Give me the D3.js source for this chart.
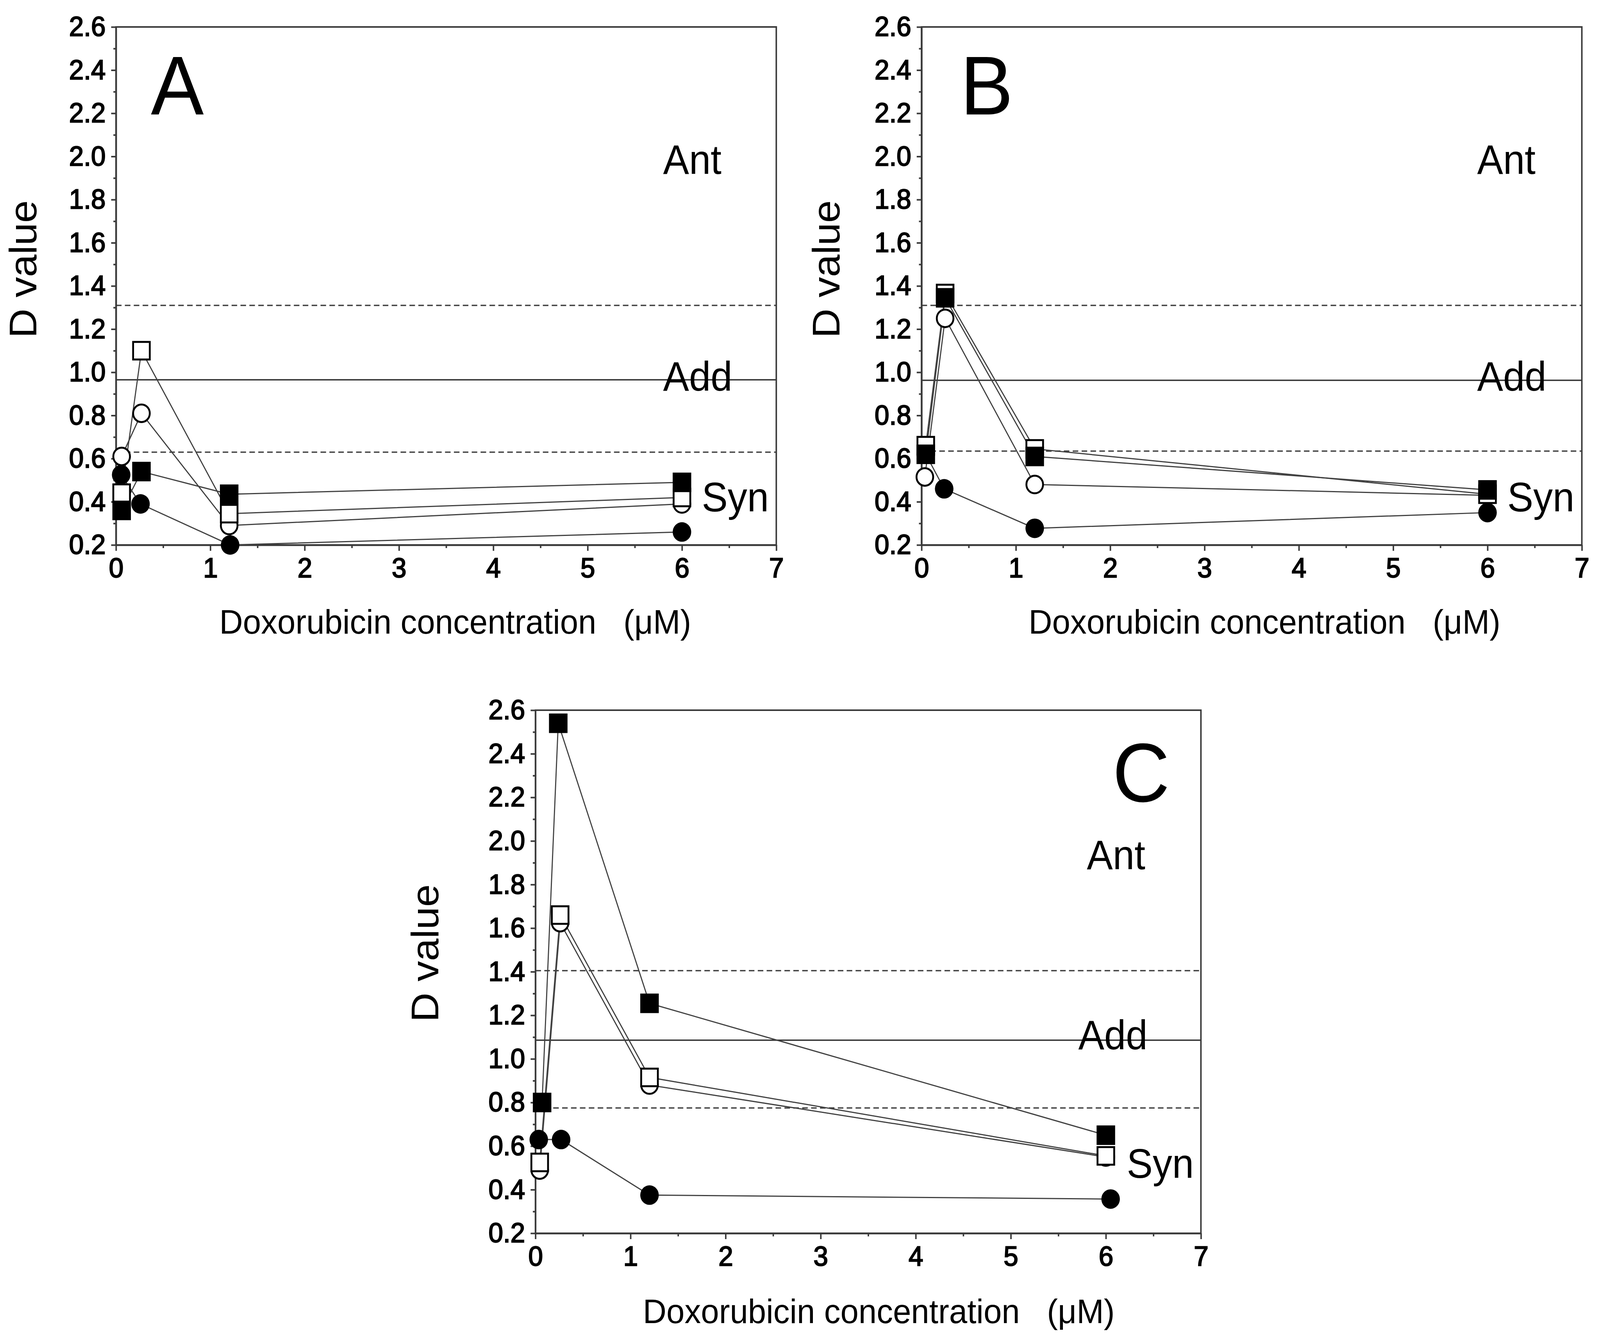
<!DOCTYPE html>
<html>
<head>
<meta charset="utf-8">
<script src="https://cdn.jsdelivr.net/npm/d3@7/dist/d3.min.js"></script>
<style>
  html, body { margin: 0; padding: 0; background: #fff; overflow: hidden; width: 100%; height: 100%; }
  svg { display: block; width: 100vw; height: 100vh; }
  text { font-family: "Liberation Sans", Arial, sans-serif; fill: #000; }
</style>
</head>
<body>
<svg id="chart" viewBox="0 0 4318 3420" preserveAspectRatio="none"></svg>
<script>
// ---------------- DATA ----------------
const xTickValues = [0, 1, 2, 3, 4, 5, 6, 7];
const xMinorTicks = [0.5, 1.5, 2.5, 3.5, 4.5, 5.5, 6.5];
const yTickValues = [0.2, 0.4, 0.6, 0.8, 1.0, 1.2, 1.4, 1.6, 1.8, 2.0, 2.2, 2.4, 2.6];
const yMinorTicks = [0.3, 0.5, 0.7, 0.9, 1.1, 1.3, 1.5, 1.7, 1.9, 2.1, 2.3, 2.5];
const zoneLabels = ["Ant", "Add", "Syn"];
const xAxisTitle = "Doxorubicin concentration   (\u03bcM)";
const yAxisTitle = "D value";

// Panel A
const doseA_filledSquare = [0.06, 0.27, 1.2, 6.0];
const dA_filledSquare    = [0.36, 0.54, 0.435, 0.49];
const doseA_openSquare   = [0.06, 0.27, 1.2, 6.0];
const dA_openSquare      = [0.44, 1.10, 0.345, 0.42];
const doseA_openCircle   = [0.06, 0.27, 1.2, 6.0];
const dA_openCircle      = [0.61, 0.81, 0.29, 0.39];
const doseA_filledCircle = [0.055, 0.26, 1.21, 6.0];
const dA_filledCircle    = [0.525, 0.39, 0.20, 0.26];
const refA = [1.31, 0.965, 0.63];

// Panel B
const doseB_filledSquare = [0.045, 0.25, 1.2, 6.0];
const dB_filledSquare    = [0.62, 1.345, 0.61, 0.455];
const doseB_openSquare   = [0.045, 0.25, 1.2, 6.0];
const dB_openSquare      = [0.66, 1.365, 0.645, 0.435];
const doseB_openCircle   = [0.035, 0.25, 1.2, 6.0];
const dB_openCircle      = [0.515, 1.25, 0.48, 0.43];
const doseB_filledCircle = [0.045, 0.24, 1.2, 6.0];
const dB_filledCircle    = [0.62, 0.46, 0.277, 0.35];
const refB = [1.31, 0.963, 0.635];

// Panel C
const doseC_filledSquare = [0.07, 0.24, 1.2, 6.0];
const dC_filledSquare    = [0.80, 2.54, 1.255, 0.65];
const doseC_openSquare   = [0.045, 0.26, 1.2, 6.0];
const dC_openSquare      = [0.525, 1.66, 0.915, 0.555];
const doseC_openCircle   = [0.045, 0.26, 1.2, 6.0];
const dC_openCircle      = [0.49, 1.625, 0.88, 0.55];
const doseC_filledCircle = [0.035, 0.27, 1.2, 6.05];
const dC_filledCircle    = [0.63, 0.63, 0.375, 0.357];
const refC = [1.405, 1.086, 0.775];

// ---------------- LAYOUT ----------------
const panels = [
  { letter: "A", left: 313, right: 2095, top: 69, bottom: 1395, ref: refA,
    letterPos: [0.37, 2.195], antPos: [5.80, 1.92], addPos: [5.80, 0.915], synPos: [6.21, 0.355],
    xTitle: [592, 1622], yTitle: [98, 689],
    series: [
      { type: "filledCircle", x: doseA_filledCircle, y: dA_filledCircle },
      { type: "openCircle",   x: doseA_openCircle,   y: dA_openCircle },
      { type: "openSquare",   x: doseA_openSquare,   y: dA_openSquare },
      { type: "filledSquare", x: doseA_filledSquare, y: dA_filledSquare } ] },
  { letter: "B", left: 2487, right: 4269, top: 69, bottom: 1395, ref: refB,
    letterPos: [0.41, 2.195], antPos: [5.89, 1.92], addPos: [5.89, 0.915], synPos: [6.21, 0.355],
    xTitle: [2776, 1622], yTitle: [2265, 689],
    series: [
      { type: "filledCircle", x: doseB_filledCircle, y: dB_filledCircle },
      { type: "openCircle",   x: doseB_openCircle,   y: dB_openCircle },
      { type: "openSquare",   x: doseB_openSquare,   y: dB_openSquare },
      { type: "filledSquare", x: doseB_filledSquare, y: dB_filledSquare } ] },
  { letter: "C", left: 1445, right: 3241, top: 1818, bottom: 3157, ref: refC,
    letterPos: [6.07, 2.18], antPos: [5.80, 1.87], addPos: [5.71, 1.045], synPos: [6.22, 0.455],
    xTitle: [1735, 3387], yTitle: [1183, 2440],
    series: [
      { type: "filledCircle", x: doseC_filledCircle, y: dC_filledCircle },
      { type: "openCircle",   x: doseC_openCircle,   y: dC_openCircle },
      { type: "openSquare",   x: doseC_openSquare,   y: dC_openSquare },
      { type: "filledSquare", x: doseC_filledSquare, y: dC_filledSquare } ] }
];

const svg = d3.select("#chart");
const AXIS_COLOR = "#3a3a3a";
const LINE_COLOR = "#404040";
const MARK = 50, STROKE = 5;

function drawPanel(p) {
  const x = d3.scaleLinear().domain([0, 7]).range([p.left, p.right]);
  const y = d3.scaleLinear().domain([0.2, 2.6]).range([p.bottom, p.top]);
  const g = svg.append("g");

  // reference lines
  p.ref.forEach((v, i) => {
    g.append("line")
      .attr("x1", x(0)).attr("x2", x(7))
      .attr("y1", y(v)).attr("y2", y(v))
      .attr("stroke", i === 1 ? "#333" : "#444")
      .attr("stroke-width", 3.5)
      .attr("stroke-dasharray", i === 1 ? null : "15,9");
  });

  // frame
  g.append("rect")
    .attr("x", x(0)).attr("y", y(2.6))
    .attr("width", x(7) - x(0)).attr("height", y(0.2) - y(2.6))
    .attr("fill", "none").attr("stroke", AXIS_COLOR).attr("stroke-width", 4);

  // axes
  const yAxis = d3.axisLeft(y).tickValues(yTickValues).tickSize(13).tickSizeOuter(0)
    .tickPadding(15).tickFormat(d3.format(".1f"));
  const yMinor = d3.axisLeft(y).tickValues(yMinorTicks).tickSize(7).tickSizeOuter(0).tickFormat("");
  const xAxis = d3.axisBottom(x).tickValues(xTickValues).tickSize(15).tickSizeOuter(0)
    .tickPadding(18).tickFormat(d3.format("d"));
  const xMinor = d3.axisBottom(x).tickValues(xMinorTicks).tickSize(8).tickSizeOuter(0).tickFormat("");

  [[yAxis, "translate(" + x(0) + ",0)"], [yMinor, "translate(" + x(0) + ",0)"],
   [xAxis, "translate(0," + y(0.2) + ")"], [xMinor, "translate(0," + y(0.2) + ")"]].forEach(([ax, tr]) => {
    const a = g.append("g").attr("transform", tr).call(ax);
    a.select(".domain").attr("stroke", AXIS_COLOR).attr("stroke-width", 4);
    a.selectAll(".tick line").attr("stroke", AXIS_COLOR).attr("stroke-width", 4);
    a.selectAll(".tick text")
      .attr("font-family", "'Liberation Sans', Arial, sans-serif")
      .attr("font-size", 71).attr("fill", "#000")
      .attr("stroke", "#000").attr("stroke-width", 2.5);
  });

  // connecting lines
  const line = d3.line().x(d => x(d[0])).y(d => y(d[1]));
  p.series.forEach(s => {
    const pts = s.x.map((v, i) => [v, s.y[i]]);
    g.append("path").datum(pts).attr("d", line)
      .attr("fill", "none").attr("stroke", LINE_COLOR).attr("stroke-width", 3);
  });

  // markers
  p.series.forEach(s => {
    const pts = s.x.map((v, i) => [v, s.y[i]]);
    const sel = g.append("g").selectAll("g").data(pts).join("g");
    if (s.type === "filledSquare") {
      sel.append("rect")
        .attr("x", d => x(d[0]) - MARK / 2).attr("y", d => y(d[1]) - MARK / 2)
        .attr("width", MARK).attr("height", MARK).attr("fill", "#000");
    } else if (s.type === "openSquare") {
      sel.append("rect")
        .attr("x", d => x(d[0]) - (MARK - STROKE) / 2).attr("y", d => y(d[1]) - (MARK - STROKE) / 2)
        .attr("width", MARK - STROKE).attr("height", MARK - STROKE)
        .attr("fill", "#fff").attr("stroke", "#000").attr("stroke-width", STROKE);
    } else if (s.type === "openCircle") {
      sel.append("circle")
        .attr("cx", d => x(d[0])).attr("cy", d => y(d[1])).attr("r", (MARK - STROKE) / 2)
        .attr("fill", "#fff").attr("stroke", "#000").attr("stroke-width", STROKE);
    } else {
      sel.append("circle")
        .attr("cx", d => x(d[0])).attr("cy", d => y(d[1])).attr("r", MARK / 2)
        .attr("fill", "#000");
    }
  });

  // zone labels
  [[zoneLabels[0], p.antPos], [zoneLabels[1], p.addPos], [zoneLabels[2], p.synPos]].forEach(([t, pos]) => {
    g.append("text").attr("x", x(pos[0])).attr("y", y(pos[1]))
      .attr("font-size", 105).text(t);
  });

  // panel letter
  g.append("text").attr("x", x(p.letterPos[0])).attr("y", y(p.letterPos[1]))
    .attr("font-size", 214).text(p.letter);

  // axis titles
  g.append("text").attr("x", p.xTitle[0]).attr("y", p.xTitle[1])
    .attr("font-size", 88).style("white-space", "pre").text(xAxisTitle);
  g.append("text")
    .attr("transform", "translate(" + p.yTitle[0] + "," + p.yTitle[1] + ") rotate(-90)")
    .attr("text-anchor", "middle").attr("font-size", 104).text(yAxisTitle);
}

panels.forEach(drawPanel);
</script>
</body>
</html>
